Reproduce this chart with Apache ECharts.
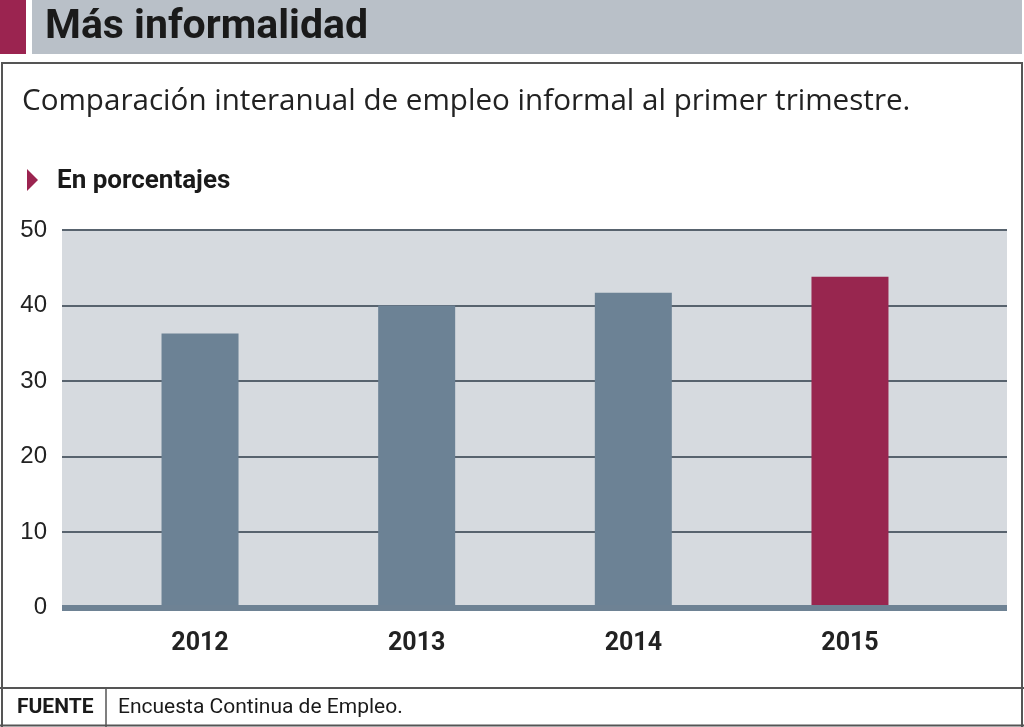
<!DOCTYPE html>
<html><head><meta charset="utf-8">
<script src="https://cdn.jsdelivr.net/npm/echarts@6/dist/echarts.min.js"></script>
<style>html,body{margin:0;padding:0;background:#fff}#c{width:1024px;height:727px}</style>
</head><body><div id="c"></div>
<script>
const categories = ['2012', '2013', '2014', '2015'];
const values = [36.3, 40.0, 41.7, 43.8];
const yTicks = [0, 10, 20, 30, 40, 50];
const barColors = ['#6c8295', '#6c8295', '#6c8295', '#98264f'];

const narrow = '"Liberation Sans Narrow", "Roboto", "Liberation Sans", sans-serif';
const chart = echarts.init(document.getElementById('c'));
const gTop = 230, gBottom = 119.5;
chart.setOption({
  animation: false,
  grid: [
    { left: 62, right: 17, top: gTop, bottom: gBottom, show: true, backgroundColor: '#d6dadf', borderWidth: 0 },
    { left: 91.7, right: 65.7, top: gTop, bottom: gBottom }
  ],
  xAxis: [
    { gridIndex: 0, type: 'category', data: ['a'], offset: 3, z: 10,
      axisLine: { show: true, lineStyle: { color: '#6e8294', width: 6, cap: 'butt' } },
      axisTick: { show: false }, axisLabel: { show: false }, splitLine: { show: false } },
    { gridIndex: 1, type: 'category', data: categories,
      axisLine: { show: false }, axisTick: { show: false },
      axisLabel: { margin: 24, fontFamily: narrow, fontWeight: 'bold', fontSize: 25, color: '#222' } }
  ],
  yAxis: [
    { gridIndex: 0, type: 'value', min: 0, max: 50, interval: 10,
      axisLine: { show: false }, axisTick: { show: false },
      axisLabel: { margin: 15, fontFamily: '"Liberation Sans", sans-serif', fontSize: 24, color: '#222',
        formatter: v => yTicks.includes(v) ? String(v) : '' },
      splitLine: { show: true, lineStyle: { color: '#58636e', width: 2 } } },
    { gridIndex: 1, type: 'value', min: 0, max: 50, interval: 10, show: false, splitLine: { show: false } }
  ],
  series: [{
    type: 'bar', xAxisIndex: 1, yAxisIndex: 1, barWidth: 77, z: 3,
    data: values.map((v, i) => ({ value: v, itemStyle: { color: barColors[i] } }))
  }],
  graphic: [
    { type: 'rect', shape: { x: 0, y: 0, width: 26, height: 54 }, style: { fill: '#9b2450' } },
    { type: 'rect', shape: { x: 32, y: 0, width: 990, height: 54 }, style: { fill: '#b9c0c8' } },
    { type: 'text', x: 45, y: 28, style: { text: 'Más informalidad', fontFamily: narrow, fontWeight: 'bold', fontSize: 41, fill: '#1a1a1a', verticalAlign: 'middle' } },
    { type: 'polyline', shape: { points: [[2, 727], [2, 63], [1022, 63], [1022, 727]] }, style: { stroke: '#555', lineWidth: 2, fill: null } },
    { type: 'line', shape: { x1: 0, y1: 688, x2: 1024, y2: 688 }, style: { stroke: '#555', lineWidth: 2 } },
    { type: 'line', shape: { x1: 0, y1: 725.5, x2: 1024, y2: 725.5 }, style: { stroke: '#555', lineWidth: 2 } },
    { type: 'line', shape: { x1: 106, y1: 688, x2: 106, y2: 727 }, style: { stroke: '#555', lineWidth: 1.5 } },
    { type: 'text', x: 22, y: 102, style: { text: 'Comparación interanual de empleo informal al primer trimestre.', fontFamily: '"Open Sans", "Liberation Sans", sans-serif', fontSize: 29.6, fill: '#222', verticalAlign: 'middle' } },
    { type: 'polygon', shape: { points: [[27, 169], [38, 180], [27, 191]] }, style: { fill: '#9b2450' } },
    { type: 'text', x: 57, y: 181, style: { text: 'En porcentajes', fontFamily: narrow, fontWeight: 'bold', fontSize: 26, fill: '#1a1a1a', verticalAlign: 'middle' } },
    { type: 'text', x: 17, y: 708, style: { text: 'FUENTE', fontFamily: narrow, fontWeight: 'bold', fontSize: 21, fill: '#1a1a1a', verticalAlign: 'middle' } },
    { type: 'text', x: 118, y: 708, style: { text: 'Encuesta Continua de Empleo.', fontFamily: narrow, fontSize: 21, fill: '#1a1a1a', verticalAlign: 'middle' } }
  ]
});
</script></body></html>
